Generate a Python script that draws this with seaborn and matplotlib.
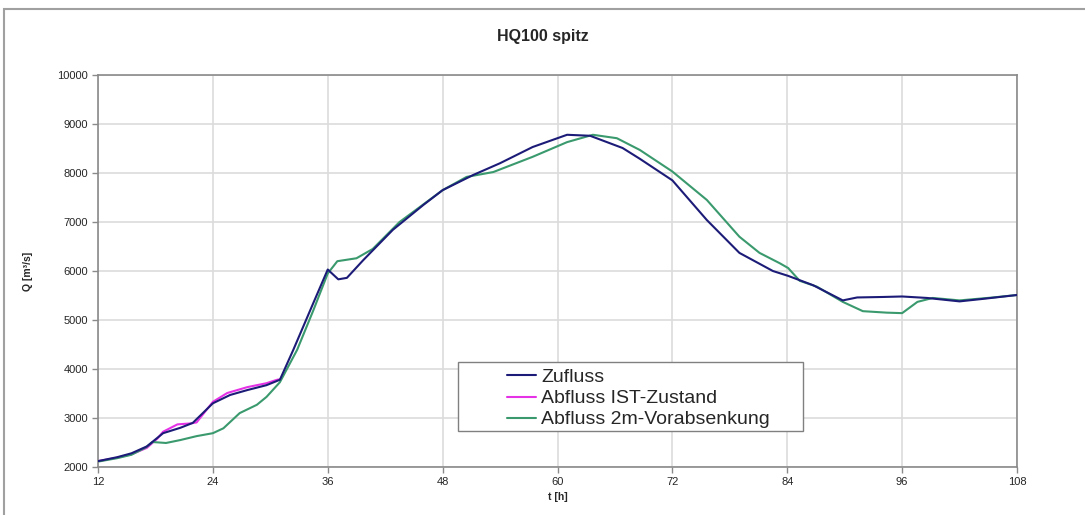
import numpy as np
import pandas as pd
import matplotlib
matplotlib.use('Agg')
import matplotlib.pyplot as plt
from matplotlib.patches import Rectangle
import seaborn as sns

# --- data ---
t_zufluss = [12, 14, 15.5, 17.1, 18.8, 20.6, 21.9, 24.0, 25.8, 27.6, 29.6, 31.0,
             32.4, 34.5, 36.0, 37.1, 38.0, 39.7, 42.8, 46.0, 48.0, 51.2, 54.0,
             57.4, 61.0, 63.4, 66.8, 68.6, 72.0, 75.6, 79.0, 82.5, 84.1,
             86.7, 89.8, 91.3, 94.0, 96.0, 98.6, 102.0, 104.4, 108]
q_zufluss = [2120, 2200, 2280, 2420, 2690, 2800, 2900, 3300, 3470, 3570, 3670, 3780,
             4390, 5350, 6030, 5830, 5860, 6220, 6840, 7350, 7650, 7960, 8200,
             8530, 8780, 8760, 8510, 8290, 7850, 7040, 6370, 6000, 5900,
             5710, 5400, 5460, 5470, 5480, 5450, 5380, 5430, 5510]

t_ist = [12, 14, 15.5, 17.1, 18.2, 18.8, 20.3, 21.7, 22.3, 24.0, 25.5, 27.6, 29.6,
         30.7, 31.0]
q_ist = [2120, 2190, 2260, 2390, 2580, 2720, 2870, 2890, 2910, 3330, 3510, 3630, 3710,
         3780, 3790]

t_vorab = [12, 14, 15.5, 17.0, 17.7, 19.1, 20.6, 22.3, 24.0, 25.1, 26.8, 28.6, 29.6,
           31.0, 32.8, 34.5, 36.0, 37.0, 39.0, 40.7, 43.5, 48.0, 50.5, 53.3, 57.4,
           61.0, 63.7, 66.2, 68.6, 72.0, 75.6, 79.0, 81.1, 83.2, 84.1, 85.3, 87.1,
           89.8, 91.9, 94.4, 96.0, 97.6, 99.2, 102.0, 105.5, 108]
q_vorab = [2110, 2180, 2250, 2400, 2510, 2490, 2550, 2630, 2690, 2790, 3100, 3270, 3430,
           3730, 4390, 5200, 5950, 6200, 6260, 6450, 7000, 7650, 7920, 8020, 8330,
           8630, 8780, 8710, 8470, 8030, 7450, 6700, 6370, 6160, 6060, 5800, 5680,
           5370, 5180, 5150, 5140, 5370, 5450, 5400, 5460, 5510]

series_names = ['Zufluss', 'Abfluss IST-Zustand', 'Abfluss 2m-Vorabsenkung']
series_colors = ['#1c1c78', '#e632e6', '#3a9a6e']
x_ticks = [12, 24, 36, 48, 60, 72, 84, 96, 108]
y_ticks = [2000, 3000, 4000, 5000, 6000, 7000, 8000, 9000, 10000]

df = pd.concat([
    pd.DataFrame({'t': t_zufluss, 'Q': q_zufluss, 'serie': series_names[0]}),
    pd.DataFrame({'t': t_ist, 'Q': q_ist, 'serie': series_names[1]}),
    pd.DataFrame({'t': t_vorab, 'Q': q_vorab, 'serie': series_names[2]}),
], ignore_index=True)

sns.set_style('whitegrid')
plt.rcParams['font.family'] = ['Liberation Sans', 'DejaVu Sans']

fig = plt.figure(figsize=(10.85, 5.15), dpi=100)
ax = fig.add_axes([98 / 1085, 1 - 467 / 515, 919 / 1085, 392 / 515])

# outer chart frame (Excel-style)
fig.patches.append(Rectangle((4 / 1085, -0.1), 1.1, 1 - 9 / 515 + 0.1,
                             transform=fig.transFigure, fill=False,
                             edgecolor='#a0a0a0', linewidth=1.5))

sns.lineplot(data=df, x='t', y='Q', hue='serie', hue_order=series_names,
             palette=series_colors, linewidth=1.5, sort=True, legend=False,
             estimator=None, ax=ax)
# draw Zufluss on top of IST
ax.lines[0].set_zorder(3.5)

ax.set_xlim(12, 108)
ax.set_ylim(2000, 10000)
ax.set_xticks(x_ticks)
ax.set_yticks(y_ticks)
ax.grid(True, color='#dcdcdc', linewidth=1.2)
for s in ax.spines.values():
    s.set_color('#8a8a8a')
    s.set_linewidth(1.2)
ax.tick_params(axis='both', labelsize=8, length=4, width=1, color='#8a8a8a',
               bottom=True, left=True, pad=3)
ax.set_xlabel('t [h]', fontsize=7.5, fontweight='bold', labelpad=4)
ax.set_ylabel('Q [m³/s]', fontsize=7.5, fontweight='bold', labelpad=18)
fig.suptitle('HQ100 spitz', x=0.5, y=1 - 36 / 515, va='center',
             fontsize=11.5, fontweight='bold')

# legend box
x0, y0 = (458 - 98) / 919, (467 - 431) / 392
w, h = (803 - 458) / 919, (431 - 362) / 392
ax.add_patch(Rectangle((x0, y0), w, h, transform=ax.transAxes, facecolor='white',
                       edgecolor='#808080', linewidth=1.0, zorder=5))
handles = [plt.Line2D([], [], color=c, linewidth=1.5) for c in series_colors]
ax.legend(handles, series_names, loc='center left',
          bbox_to_anchor=((507 - 98) / 919, (467 - 398.5) / 392), frameon=False,
          fontsize=14, handlelength=1.5, handletextpad=0.25, labelspacing=0.18,
          borderpad=0, borderaxespad=0).set_zorder(6)

fig.savefig('out.png', dpi=100)
